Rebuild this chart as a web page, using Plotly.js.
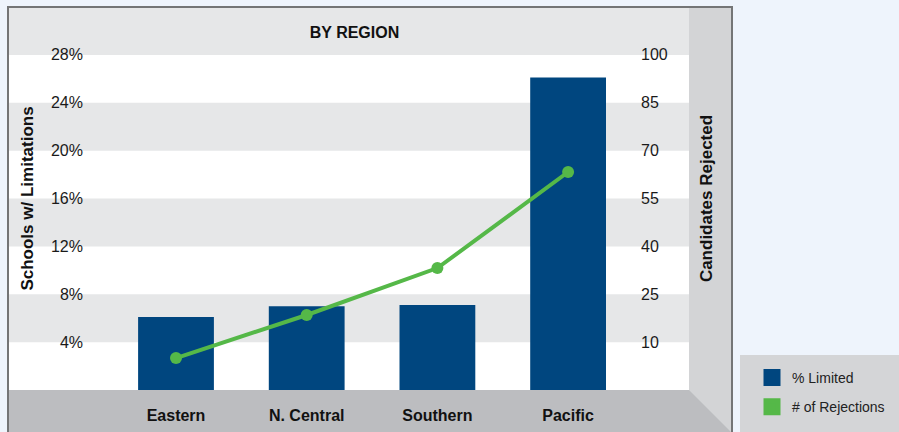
<!DOCTYPE html>
<html><head><meta charset="utf-8">
<script src="https://cdn.plot.ly/plotly-3.0.1.min.js"></script>
<style>html,body{margin:0;padding:0;background:#EEF4FC;} #chart{width:899px;height:432px;}</style>
</head><body><div id="chart"></div>
<script>
// ---- data ----
const regions = ['Eastern', 'N. Central', 'Southern', 'Pacific'];
const pctLimited = [6.1, 7.0, 7.1, 26.1];
const rejections = [5.0, 18.5, 33.2, 63.3];
const leftTickVals = [4, 8, 12, 16, 20, 24, 28];
const leftTickText = ['4%', '8%', '12%', '16%', '20%', '24%', '28%'];
const rightTickVals = [10, 25, 40, 55, 70, 85, 100];
const rightTickText = ['10', '25', '40', '55', '70', '85', '100'];

// ---- geometry (pixels) ----
const W = 899, H = 432;
const L = 84, R = 640, T = 7, B = 390;
const frameL = 9, panelL = 689, panelR = 731;
const firstCenter = 176, catStep = 130.7;
const px = v => (v - L) / (R - L);
const py = v => (B - v) / (B - T);

const FONT = 'Liberation Sans, Arial, sans-serif';
const BLUE = '#00467F', GREEN = '#55B848';

const shapes = [];
// white plot backdrop
shapes.push({type: 'rect', xref: 'paper', yref: 'paper', x0: px(frameL), x1: px(panelL), y0: py(B), y1: py(T),
  fillcolor: '#FFFFFF', line: {width: 0}, layer: 'below'});
// alternating gray bands between tick lines
for (let i = 0; i < leftTickVals.length; i += 2) {
  shapes.push({type: 'rect', xref: 'paper', yref: 'y', x0: px(frameL), x1: px(panelL),
    y0: leftTickVals[i], y1: leftTickVals[i] + (leftTickVals[1] - leftTickVals[0]),
    fillcolor: '#E6E7E8', line: {width: 0}, layer: 'below'});
}
// right side panel
shapes.push({type: 'rect', xref: 'paper', yref: 'paper', x0: px(panelL), x1: px(panelR), y0: py(H + 5), y1: py(T),
  fillcolor: '#D3D4D6', line: {width: 0}, layer: 'below'});
// bottom floor with bevel
shapes.push({type: 'path', xref: 'paper', yref: 'paper',
  path: `M ${px(frameL)},${py(B)} L ${px(panelL)},${py(B)} L ${px(panelR)},${py(H)} L ${px(panelR)},${py(H + 5)} L ${px(frameL)},${py(H + 5)} Z`,
  fillcolor: '#BCBDC0', line: {width: 0}, layer: 'below'});
// frame border
shapes.push({type: 'rect', xref: 'paper', yref: 'paper', x0: px(8), x1: px(732), y0: py(H + 10), y1: py(7),
  fillcolor: 'rgba(0,0,0,0)', line: {width: 2, color: '#747576'}, layer: 'above'});
// legend box
shapes.push({type: 'rect', xref: 'paper', yref: 'paper', x0: px(740), x1: px(W + 10), y0: py(H + 10), y1: py(355),
  fillcolor: '#D4D5D7', line: {width: 0}, layer: 'below'});

const traces = [
  {type: 'bar', name: '% Limited', x: regions, y: pctLimited, width: 0.58,
   marker: {color: BLUE}, yaxis: 'y', showlegend: false, legendgroup: 'a'},
  {type: 'scatter', mode: 'lines+markers', name: '# of Rejections', x: regions, y: rejections,
   yaxis: 'y2', line: {color: GREEN, width: 4}, marker: {color: GREEN, size: 12},
   showlegend: false, legendgroup: 'b'},
  // legend swatches (large squares, as in the original legend)
  {type: 'bar', name: '% Limited', x: regions, y: regions.map(() => null),
   marker: {color: BLUE, line: {color: BLUE, width: 5}}, yaxis: 'y', legendgroup: 'a', hoverinfo: 'skip'},
  {type: 'bar', name: '# of Rejections', x: regions, y: regions.map(() => null),
   marker: {color: GREEN, line: {color: GREEN, width: 5}}, yaxis: 'y2', legendgroup: 'b', hoverinfo: 'skip'}
];

const layout = {
  width: W, height: H,
  margin: {l: L, r: W - R, t: T, b: H - B, pad: 0},
  paper_bgcolor: '#EEF4FC', plot_bgcolor: 'rgba(0,0,0,0)',
  barmode: 'overlay',
  font: {family: FONT, color: '#1A1A1A', size: 16},
  title: {text: 'BY REGION', font: {family: FONT, size: 16, weight: 700, color: '#111'},
          xref: 'paper', x: px(354.5), xanchor: 'center', yref: 'container', y: 1 - 32.5 / H, yanchor: 'middle'},
  xaxis: {type: 'category', range: [(L - firstCenter) / catStep, (R - firstCenter) / catStep],
          showgrid: false, zeroline: false, showline: false,
          ticks: 'outside', ticklen: 11, tickcolor: 'rgba(0,0,0,0)',
          tickfont: {family: FONT, size: 16, weight: 700, color: '#111'}, fixedrange: true},
  yaxis: {range: [0, 32], tickvals: leftTickVals, ticktext: leftTickText, showgrid: false,
          zeroline: false, showline: false, ticks: '', tickfont: {family: FONT, size: 16, color: '#1A1A1A'},
          title: {text: 'Schools w/ Limitations', standoff: 13, font: {family: FONT, size: 17, weight: 700, color: '#111'}},
          fixedrange: true},
  yaxis2: {overlaying: 'y', side: 'right', range: [-5, 115], tickvals: rightTickVals, ticktext: rightTickText,
           showgrid: false, zeroline: false, showline: false, ticks: '',
           tickfont: {family: FONT, size: 16, color: '#1A1A1A'},
           title: {text: 'Candidates Rejected', standoff: 33, font: {family: FONT, size: 17, weight: 700, color: '#111'}},
           fixedrange: true},
  showlegend: true,
  legend: {x: px(752), xanchor: 'left', y: py(362), yanchor: 'top', bgcolor: 'rgba(0,0,0,0)',
           traceorder: 'grouped', tracegroupgap: 8,
           font: {family: FONT, size: 14, color: '#222'}},
  shapes: shapes
};

Plotly.newPlot('chart', traces, layout, {displayModeBar: false, staticPlot: true});
</script></body></html>
